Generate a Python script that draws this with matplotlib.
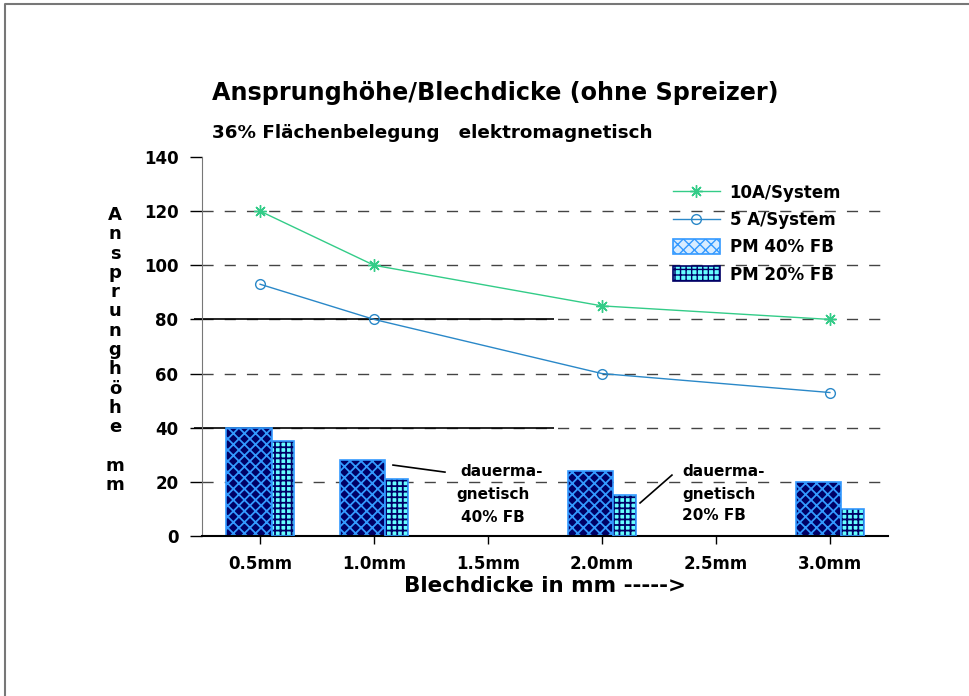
import matplotlib as mpl
import matplotlib.pyplot as plt
from matplotlib.lines import Line2D
from matplotlib.patches import Patch

# data
thickness = [0.5, 1.0, 2.0, 3.0]
sys_10a = [120, 100, 85, 80]
sys_5a = [93, 80, 60, 53]
pm_40 = [40, 28, 24, 20]
pm_20 = [35, 21, 15, 10]
xticks = [0.5, 1.0, 1.5, 2.0, 2.5, 3.0]
xticklabels = ['0.5mm', '1.0mm', '1.5mm', '2.0mm', '2.5mm', '3.0mm']
yticks = [0, 20, 40, 60, 80, 100, 120, 140]
ylabel_chars = list('Ansprunghöhe') + [''] + list('mm')

NAVY = '#000066'
LBLUE = '#3399ff'
CYAN = '#66ffff'
GREEN = '#33cc88'
BLUE = '#2a88c8'

plt.rcParams['font.family'] = 'DejaVu Sans'
plt.rcParams['font.weight'] = 'bold'

fig = plt.figure(figsize=(9.7, 6.96), dpi=100)
ax = fig.add_axes([202 / 970, 1 - 536 / 696, 686 / 970, 379 / 696])
ax.set_xlim(0.245, 3.255)
ax.set_ylim(0, 140)

# grid
for y in yticks[1:-1]:
    ax.axhline(y, color='#444444', lw=1.0, ls=(0, (8, 8)), zorder=0)
# stray solid lines in the original
ax.hlines([80, 40], 0.21, 1.79, color='black', lw=1.2, zorder=1, clip_on=False)

# bars
with mpl.rc_context({'hatch.linewidth': 1.3}):
    ax.bar([x - 0.15 for x in thickness], pm_40, width=0.2, align='edge',
           color=NAVY, edgecolor=LBLUE, hatch='xxx', lw=1.2, zorder=2)
with mpl.rc_context({'hatch.linewidth': 1.3}):
    ax.bar([x + 0.05 for x in thickness], pm_20, width=0.1, align='edge',
           color=CYAN, edgecolor=NAVY, hatch='+++', lw=0, zorder=2)
ax.bar([x + 0.05 for x in thickness], pm_20, width=0.1, align='edge',
       fill=False, edgecolor=LBLUE, lw=1.2, zorder=3)

# lines
ax.plot(thickness, sys_10a, color=GREEN, lw=1.0, marker=(8, 2, 0), ms=9,
        mew=1.0, zorder=4)
ax.plot(thickness, sys_5a, color=BLUE, lw=1.0, marker='o', ms=7, mfc='none',
        mew=1.0, zorder=4)

# annotations
ax.plot([1.083, 1.311], [26.2, 23.6], color='black', lw=1.2)
ax.text(1.377, 24, 'dauerma-', fontsize=11, va='center', ha='left')
ax.text(1.36, 15.5, 'gnetisch', fontsize=11, va='center', ha='left')
ax.text(1.38, 7, '40% FB', fontsize=11, va='center', ha='left')
ax.plot([2.167, 2.307], [12.2, 22.5], color='black', lw=1.2)
ax.text(2.351, 24, 'dauerma-', fontsize=11, va='center', ha='left')
ax.text(2.351, 15.2, 'gnetisch', fontsize=11, va='center', ha='left')
ax.text(2.351, 7.5, '20% FB', fontsize=11, va='center', ha='left')

# axes styling
for s in ['top', 'right']:
    ax.spines[s].set_visible(False)
ax.spines['left'].set_color('#777777')
ax.spines['bottom'].set_color('black')
ax.spines['bottom'].set_linewidth(1.5)
ax.set_xticks(xticks)
ax.set_xticklabels(xticklabels, fontsize=12, fontweight='bold')
ax.set_yticks(yticks)
ax.set_yticklabels([str(v) for v in yticks], fontsize=12, fontweight='bold')
ax.tick_params(axis='x', length=6, width=1, pad=8)
ax.tick_params(axis='y', length=9, width=1, pad=8)
ax.set_xlabel('Blechdicke in mm ----->', fontsize=15.5, fontweight='bold',
              labelpad=2)

# vertical stacked y label
for i, ch in enumerate(ylabel_chars):
    fig.text(115 / 970, 1 - (215 + i * 19.3) / 696, ch, fontsize=13,
             fontweight='bold', ha='center', va='center')

fig.text(495 / 970, 1 - 93 / 696, 'Ansprunghöhe/Blechdicke (ohne Spreizer)',
         fontsize=17.2, fontweight='bold', ha='center', va='center')
fig.text(212 / 970, 1 - 133 / 696, '36% Flächenbelegung   elektromagnetisch',
         fontsize=13.2, fontweight='bold', ha='left', va='center')

# legend
handles = [
    Line2D([], [], color=GREEN, lw=1.0, marker=(8, 2, 0), ms=9),
    Line2D([], [], color=BLUE, lw=1.0, marker='o', ms=7, mfc='none'),
    Patch(facecolor='#d8ecff', edgecolor=LBLUE, hatch='xxx', lw=1.2),
    Patch(facecolor=CYAN, edgecolor=NAVY, hatch='+++', lw=1.2),
]
labels = ['10A/System', '5 A/System', 'PM 40% FB', 'PM 20% FB']
ax.legend(handles, labels, loc='upper left', frameon=False, fontsize=12,
          bbox_to_anchor=(658 / 970, 1 - 169 / 696),
          bbox_transform=fig.transFigure, handlelength=2.8,
          handleheight=1.0, labelspacing=0.55, handletextpad=0.6)

# page frame
fig.add_artist(Line2D([5 / 970, 5 / 970, 1], [0, 1 - 4 / 696, 1 - 4 / 696],
                      color='#777777', lw=1.5))

fig.savefig('out.png', dpi=100)
